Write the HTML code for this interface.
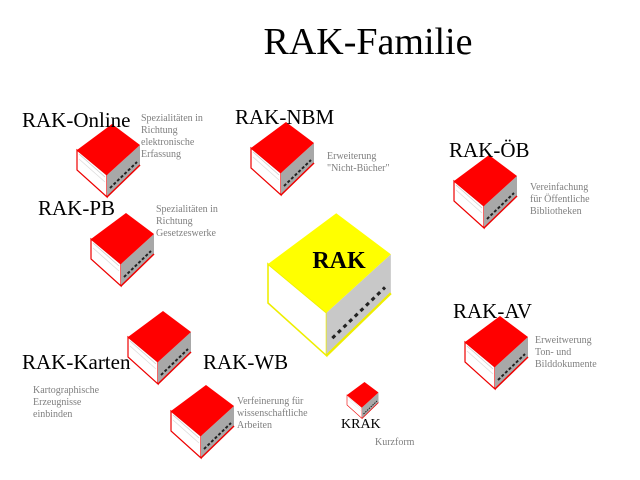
<!DOCTYPE html>
<html><head><meta charset="utf-8"><style>
html,body{margin:0;padding:0;background:#fff;}
svg{display:block}
.t{font-family:"Liberation Serif",serif;fill:#000}
.s{font-family:"Liberation Serif",serif;fill:#808080;font-size:10px}
</style></head><body>
<svg width="640" height="480" viewBox="0 0 640 480" xmlns="http://www.w3.org/2000/svg">
<defs>
<g id="bk">
  <polygon points="0,0 30,25 30,47 0,20" fill="#fff" stroke="#e00" stroke-width="1.2"/>
  <line x1="2" y1="4" x2="28" y2="27" stroke="#ccc" stroke-width="0.8"/>
  <line x1="2" y1="9" x2="28" y2="32" stroke="#ddd" stroke-width="0.8"/>
  <polygon points="30,25 63,-5 63,15 30,47" fill="#a8a8a8"/>
  <line x1="33" y1="38" x2="60" y2="12" stroke="#222" stroke-width="2" stroke-dasharray="3,2"/>
  <line x1="30" y1="47" x2="63" y2="15" stroke="#e00" stroke-width="1.5"/>
  <polygon points="0,0 35,-26 63,-5 30,25" fill="#f00"/>
</g>
<g id="bky">
  <polygon points="0,0 30,25 30,47 0,20" fill="#fff" stroke="#ee0" stroke-width="0.8"/>
  <polygon points="30,25 63,-5 63,15 30,47" fill="#c8c8c8"/>
  <line x1="33" y1="38" x2="60" y2="12" stroke="#222" stroke-width="1.6" stroke-dasharray="2,2"/>
  <line x1="30" y1="47" x2="63" y2="15" stroke="#ee0" stroke-width="1.2"/>
  <polygon points="0,0 35,-26 63,-5 30,25" fill="#ff0"/>
</g>
</defs>
<text class="t" x="368" y="54" font-size="38" text-anchor="middle">RAK-Familie</text>

<use href="#bk" x="77" y="150"/>
<text class="t" x="22" y="127" font-size="21">RAK-Online</text>
<text class="s" x="141" y="121">Spezialitäten in</text>
<text class="s" x="141" y="133">Richtung</text>
<text class="s" x="141" y="145">elektronische</text>
<text class="s" x="141" y="157">Erfassung</text>

<use href="#bk" x="251" y="148"/>
<text class="t" x="235" y="124" font-size="21">RAK-NBM</text>
<text class="s" x="327" y="159">Erweiterung</text>
<text class="s" x="327" y="171">"Nicht-Bücher"</text>

<use href="#bk" x="454" y="181"/>
<text class="t" x="449" y="157" font-size="21">RAK-ÖB</text>
<text class="s" x="530" y="190">Vereinfachung</text>
<text class="s" x="530" y="202">für Öffentliche</text>
<text class="s" x="530" y="214">Bibliotheken</text>

<use href="#bk" x="91" y="239"/>
<text class="t" x="38" y="215" font-size="21">RAK-PB</text>
<text class="s" x="156" y="212">Spezialitäten in</text>
<text class="s" x="156" y="224">Richtung</text>
<text class="s" x="156" y="236">Gesetzeswerke</text>

<use href="#bky" transform="translate(268,264) scale(1.95)"/>
<text class="t" x="339" y="268" font-size="24" font-weight="bold" text-anchor="middle">RAK</text>

<use href="#bk" x="465" y="342"/>
<text class="t" x="453" y="318" font-size="21">RAK-AV</text>
<text class="s" x="535" y="343">Erweitwerung</text>
<text class="s" x="535" y="355">Ton- und</text>
<text class="s" x="535" y="367">Bilddokumente</text>

<use href="#bk" x="128" y="337"/>
<text class="t" x="22" y="369" font-size="21">RAK-Karten</text>
<text class="s" x="33" y="393">Kartographische</text>
<text class="s" x="33" y="405">Erzeugnisse</text>
<text class="s" x="33" y="417">einbinden</text>

<use href="#bk" x="171" y="411"/>
<text class="t" x="203" y="369" font-size="21">RAK-WB</text>
<text class="s" x="237" y="404">Verfeinerung für</text>
<text class="s" x="237" y="416">wissenschaftliche</text>
<text class="s" x="237" y="428">Arbeiten</text>

<use href="#bk" transform="translate(347,395) scale(0.5)"/>
<text class="t" x="341" y="428" font-size="14">KRAK</text>
<text class="s" x="375" y="445">Kurzform</text>
</svg>
</body></html>
